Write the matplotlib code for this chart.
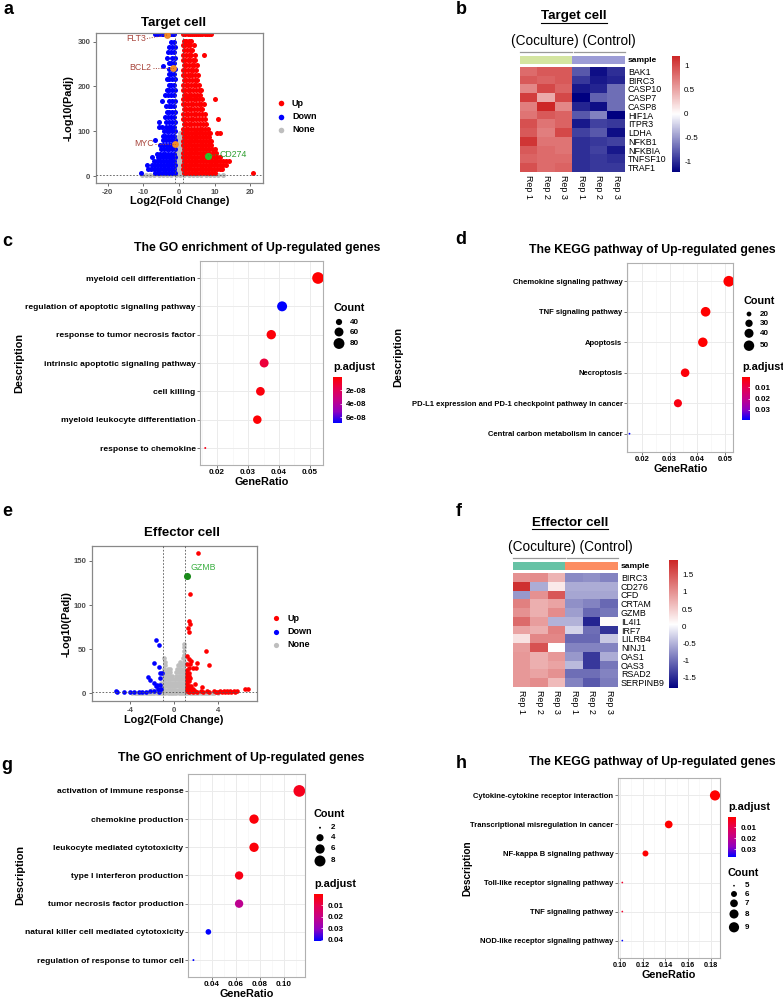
import numpy as np
import matplotlib.pyplot as plt
from matplotlib.colors import LinearSegmentedColormap, ListedColormap
from matplotlib.ticker import AutoMinorLocator

plt.rcParams['font.family'] = ['Liberation Sans', 'DejaVu Sans']
plt.rcParams['axes.unicode_minus'] = False

# ---------------- data ----------------
# volcano rows: (-log10 padj, [log2 fold change, ...])
up_a = [
    (317, [1.2, 1.8, 2.4, 3.0, 3.6, 4.2, 4.8, 5.4, 6.0, 6.6, 7.2, 7.8, 8.4, 9.0]),
    (302, [1.3, 2.1, 2.9, 3.4]),
    (292, [1.1, 1.7, 2.5, 3.2, 4.1]),
    (281, [1.4, 2.2, 3.0, 3.8]),
    (270, [1.2, 1.9, 2.7, 3.5, 4.4, 6.9]),
    (259, [1.1, 1.6, 2.4, 3.1, 3.9, 4.6]),
    (248, [1.3, 2.0, 2.8, 3.6, 4.3, 5.0]),
    (237, [1.2, 1.8, 2.6, 3.3, 4.0, 4.7]),
    (226, [1.1, 1.7, 2.4, 3.1, 3.8, 4.5, 5.3]),
    (215, [1.4, 2.1, 2.9, 3.6, 4.4, 5.1]),
    (204, [1.2, 1.9, 2.6, 3.4, 4.1, 4.9, 5.7]),
    (193, [1.1, 1.7, 2.4, 3.2, 3.9, 4.7, 5.5, 6.3]),
    (182, [1.3, 2.0, 2.8, 3.5, 4.3, 5.0, 5.8]),
    (171, [1.2, 1.9, 2.6, 3.4, 4.1, 4.9, 5.6, 6.4, 10.0]),
    (160, [1.1, 1.8, 2.5, 3.3, 4.0, 4.8, 5.5, 6.3, 7.0]),
    (149, [1.3, 2.0, 2.8, 3.5, 4.3, 5.0, 5.8, 6.6]),
    (138, [1.2, 1.9, 2.6, 3.4, 4.1, 4.9, 5.7, 6.5, 7.3]),
    (127, [1.1, 1.8, 2.5, 3.3, 4.0, 4.8, 5.6, 6.4, 7.2, 10.9]),
    (116, [1.3, 2.0, 2.8, 3.5, 4.3, 5.1, 5.9, 6.7, 7.5]),
    (105, [1.2, 1.9, 2.6, 3.4, 4.2, 5.0, 5.8, 6.6, 7.4, 8.2]),
    (96, [1.1, 1.8, 2.5, 3.3, 4.1, 4.9, 5.7, 6.5, 7.3, 8.1, 8.8, 10.6, 11.4]),
    (87, [1.3, 2.0, 2.8, 3.6, 4.4, 5.2, 6.0, 6.8, 7.6, 8.4]),
    (78, [1.2, 1.9, 2.7, 3.5, 4.3, 5.1, 5.9, 6.7, 7.5, 8.3, 9.1]),
    (69, [1.1, 1.8, 2.6, 3.4, 4.2, 5.0, 5.8, 6.6, 7.4, 8.2, 9.0]),
    (60, [1.3, 2.0, 2.8, 3.6, 4.4, 5.2, 6.0, 6.8, 7.6, 8.4, 9.2, 10.0]),
    (51, [1.2, 1.9, 2.7, 3.5, 4.3, 5.1, 5.9, 6.7, 7.5, 8.3, 9.5, 10.5]),
    (42, [1.1, 1.8, 2.6, 3.4, 4.2, 5.0, 5.8, 6.6, 7.4, 9.0, 9.8, 10.6, 11.5]),
    (33, [1.3, 2.0, 2.8, 3.6, 4.4, 5.2, 6.0, 6.8, 7.6, 8.4, 9.2, 10.0, 10.8, 11.6, 12.4, 13.2, 14.0]),
    (24, [1.2, 1.9, 2.7, 3.5, 4.3, 5.1, 5.9, 6.7, 7.5, 8.3, 9.1, 9.9, 10.7, 11.5, 12.3, 13.1]),
    (15, [1.1, 1.8, 2.6, 3.4, 4.2, 5.0, 5.8, 6.6, 7.4, 8.2, 9.0, 9.8, 10.6, 11.4, 12.2]),
    (6, [1.3, 2.0, 2.8, 3.6, 4.4, 5.2, 6.0, 6.8, 7.6, 8.4, 9.2, 10.0, 20.8]),
]
down_a = [
    (317, [-1.3, -1.8, -2.3, -2.8, -3.9, -4.4, -4.9, -5.5, -6.1, -6.7]),
    (300, [-1.3, -2.1]),
    (288, [-1.2, -1.9, -2.8]),
    (276, [-1.4, -2.2, -3.0]),
    (264, [-1.2, -2.0, -3.4]),
    (252, [-1.3, -2.1, -2.9]),
    (246, [-4.4]),
    (240, [-1.2, -1.9, -2.7]),
    (228, [-1.4, -2.2, -2.9]),
    (216, [-1.2, -2.0, -2.8, -3.5]),
    (204, [-1.3, -2.1, -2.9]),
    (192, [-1.2, -1.9, -2.7, -3.4]),
    (180, [-1.4, -2.2, -3.0, -3.8]),
    (168, [-1.2, -2.0, -2.8, -4.8]),
    (156, [-1.3, -2.1, -2.9, -3.6]),
    (144, [-1.2, -1.9, -2.7, -3.5]),
    (132, [-1.4, -2.2, -3.0, -3.8]),
    (120, [-1.2, -2.0, -2.8, -3.6, -5.5]),
    (110, [-1.3, -2.1, -2.9, -3.7, -4.8, -5.7]),
    (100, [-1.2, -1.9, -2.7, -3.5, -4.3]),
    (90, [-1.4, -2.2, -3.0, -3.8, -4.6]),
    (80, [-1.2, -2.0, -2.8, -3.6, -4.4, -6.7]),
    (70, [-1.3, -2.1, -2.9, -3.7, -4.5, -5.3]),
    (60, [-1.2, -1.9, -2.7, -3.5, -4.3, -5.1]),
    (50, [-1.4, -2.2, -3.0, -3.8, -4.6, -5.4, -6.2]),
    (42, [-1.2, -2.0, -2.8, -3.6, -4.4, -5.2, -6.0, -7.6]),
    (33, [-1.3, -2.1, -2.9, -3.7, -4.5, -5.3, -6.1, -6.9]),
    (24, [-1.2, -1.9, -2.7, -3.5, -4.3, -5.1, -5.9, -6.7, -7.5, -9.0]),
    (15, [-1.4, -2.2, -3.0, -3.8, -4.6, -5.4, -6.2, -7.0, -7.8, -8.6]),
    (6, [-1.2, -2.0, -2.8, -3.6, -4.4, -5.2, -6.0, -6.8, -10.6]),
]
none_a = [
    (95, [0.2]),
    (88, [-0.3, 0.4]),
    (80, [-0.6, 0.0, 0.6]),
    (72, [-0.5, 0.1, 0.7]),
    (64, [-0.7, -0.1, 0.5]),
    (56, [-0.6, 0.0, 0.6]),
    (48, [-0.7, -0.1, 0.5]),
    (40, [-0.6, 0.0, 0.6]),
    (32, [-0.7, -0.1, 0.5]),
    (24, [-0.6, 0.0, 0.6]),
    (16, [-0.7, -0.1, 0.5]),
    (8, [-0.6, 0.0, 0.6]),
    (2, [-10.5, -9.3, -8.1, -6.9, -5.7, -4.5, -3.3, -2.1, -0.9, 0.3, 1.5, 2.7, 3.9,
         5.1, 6.3, 7.5, 8.7, 9.9, 11.1, 12.3]),
]
genes_a = ['FLT3', 'BCL2', 'MYC']
genes_a_x = [-3.4, -1.8, -1.1]
genes_a_y = [315, 242, 72]
hit_a = ('CD274', 8.1, 45)

up_e = [
    (159, [2.2]), (112, [1.4]), (82, [1.35]), (79, [1.45]), (74, [1.25]), (69, [1.3]),
    (48, [2.9]), (42, [1.2]), (39, [1.35]), (37, [1.55]), (35, [2.05]), (33, [1.2, 1.4]),
    (32, [3.2]), (29, [1.3, 1.7, 2.0]), (26, [1.15]), (23, [1.2, 1.35]), (20, [1.15, 1.3]),
    (17, [1.2, 1.45]), (14, [1.15, 1.3]), (11, [1.2, 1.9]), (9, [1.3, 1.5]), (7, [1.2, 2.5]),
    (5, [1.15, 1.4, 1.7, 6.4, 6.7]),
    (3, [1.2, 1.5, 1.9, 2.4, 3.0, 3.6, 4.2, 4.5, 4.8, 5.1, 5.4, 5.7]),
    (1.8, [1.3, 1.7, 2.1, 2.6, 3.2, 3.8, 4.0, 4.3, 4.6, 4.9, 5.2, 5.5]),
]
down_e = [
    (60, [-1.65]), (55, [-1.35]), (35, [-1.85]), (30, [-1.4]), (23, [-1.15, -1.3]),
    (19, [-2.35]), (17, [-1.3]), (15, [-2.2]), (12, [-1.85]), (10, [-1.3, -1.6]),
    (8, [-1.65]), (5, [-1.5, -1.2]), (3, [-5.3, -2.2, -1.8]), (2, [-4.6, -2.6]),
    (1.5, [-5.2, -4.0, -3.7, -3.2, -2.9, -1.4]),
]
none_e = [
    (56, [0.9]), (52, [0.88]), (48, [0.9]), (44, [0.85]),
    (40, [-0.9, 0.82, 0.92]),
    (36, [-0.85, 0.5, 0.88]),
    (32, [-0.88, 0.35, 0.55, 0.75, 0.92]),
    (28, [-0.9, -0.55, -0.4, 0.25, 0.45, 0.65, 0.85]),
    (24, [-0.95, -0.75, -0.55, -0.35, 0.2, 0.4, 0.6, 0.8, 0.95]),
    (20, [-0.95, -0.75, -0.55, -0.35, -0.2, 0.15, 0.35, 0.55, 0.75, 0.92]),
    (16, [-0.98, -0.8, -0.6, -0.4, -0.2, 0.1, 0.3, 0.5, 0.7, 0.9]),
    (12, [-1.2, -0.95, -0.75, -0.55, -0.35, -0.15, 0.05, 0.25, 0.45, 0.65, 0.85]),
    (8, [-1.4, -1.1, -0.9, -0.7, -0.5, -0.3, -0.1, 0.1, 0.3, 0.5, 0.7, 0.9, 1.1]),
    (4, [-2.0, -1.6, -1.3, -1.0, -0.8, -0.6, -0.4, -0.2, 0.0, 0.2, 0.4, 0.6, 0.8, 1.0, 1.3, 1.7]),
    (1, [-3.8, -3.4, -3.0, -2.6, -2.2, -1.8, -1.4, -1.0, -0.6, -0.2, 0.2, 0.6, 1.0, 1.4,
         1.8, 2.2, 2.6, 3.0, 3.4]),
    (0.2, [-3.6, -3.2, -2.8, -2.4, -2.0, -1.6, -1.2, -0.8, -0.4, 0.0, 0.4, 0.8, 1.2, 1.6,
           2.0, 2.4, 2.8, 3.2, 3.6, 4.0]),
]
hit_e = ('GZMB', 1.16, 133)

# heatmaps (row-scaled expression)
samples = ['Rep 1', 'Rep 2', 'Rep 3', 'Rep 1', 'Rep 2', 'Rep 3']
sample_group = [0, 0, 0, 1, 1, 1]  # 0 = Coculture, 1 = Control
genes_b = ['BAK1', 'BIRC3', 'CASP10', 'CASP7', 'CASP8', 'HIF1A', 'ITPR3', 'LDHA',
           'NFKB1', 'NFKBIA', 'TNFSF10', 'TRAF1']
expr_b = [
    [0.80, 0.90, 0.90, -0.80, -1.15, -1.00],
    [0.90, 0.85, 0.90, -0.95, -1.10, -1.05],
    [0.65, 1.00, 0.85, -1.10, -1.05, -0.70],
    [1.05, 0.45, 1.00, -1.22, -0.75, -0.70],
    [0.70, 1.19, 0.65, -1.05, -1.15, -0.70],
    [0.75, 0.90, 0.85, -0.80, -0.60, -1.22],
    [0.95, 0.75, 0.85, -1.10, -0.90, -0.95],
    [0.90, 0.70, 1.00, -0.90, -0.80, -1.15],
    [1.10, 0.75, 0.75, -1.00, -0.95, -0.90],
    [0.90, 0.80, 0.75, -1.00, -0.90, -1.10],
    [0.85, 0.80, 0.80, -1.00, -0.95, -1.00],
    [0.95, 0.80, 0.85, -1.00, -0.95, -0.95],
]
genes_f = ['BIRC3', 'CD276', 'CFD', 'CRTAM', 'GZMB', 'IL4I1', 'IRF7', 'LILRB4', 'NINJ1',
           'OAS1', 'OAS3', 'RSAD2', 'SERPINB9']
expr_f = [
    [1.00, 1.05, 0.70, -0.80, -0.75, -0.85],
    [1.85, -0.55, 0.25, -0.55, -0.55, -0.55],
    [-0.70, 1.00, 1.50, -0.60, -0.60, -0.60],
    [1.15, 0.75, 0.85, -0.75, -0.85, -1.05],
    [1.00, 0.75, 1.05, -0.65, -1.05, -0.95],
    [1.35, 0.90, -0.50, -0.50, -1.55, 0.10],
    [0.85, 0.75, 1.15, -0.25, -1.00, -1.45],
    [0.30, 1.10, 1.10, -1.05, -1.05, -0.35],
    [0.90, 1.55, 0.05, -0.85, -0.85, -0.85],
    [0.95, 0.75, 0.95, -0.70, -1.40, -0.55],
    [0.95, 0.75, 0.85, -0.45, -1.40, -0.95],
    [0.95, 0.85, 1.00, -1.00, -1.00, -0.85],
    [0.95, 1.05, 0.65, -0.85, -1.15, -0.90],
]
range_b = (-1.22, 1.19)
range_f = (-1.82, 1.94)
ticks_b = [1, 0.5, 0, -0.5, -1]
ticks_f = [1.5, 1, 0.5, 0, -0.5, -1, -1.5]

# enrichment dot plots
go_t_terms = ['myeloid cell differentiation', 'regulation of apoptotic signaling pathway',
              'response to tumor necrosis factor', 'intrinsic apoptotic signaling pathway',
              'cell killing', 'myeloid leukocyte differentiation', 'response to chemokine']
go_t_ratio = [0.0526, 0.0410, 0.0375, 0.0352, 0.0340, 0.0330, 0.0162]
go_t_count = [90, 70, 64, 60, 58, 56, 28]
go_t_padj = [1e-10, 6.9e-8, 2e-9, 1.3e-8, 3e-9, 1e-9, 5e-9]

kegg_t_terms = ['Chemokine signaling pathway', 'TNF signaling pathway', 'Apoptosis',
                'Necroptosis', 'PD-L1 expression and PD-1 checkpoint pathway in cancer',
                'Central carbon metabolism in cancer']
kegg_t_ratio = [0.0514, 0.0430, 0.0420, 0.0356, 0.0330, 0.0155]
kegg_t_count = [53, 44, 43, 37, 34, 16]
kegg_t_padj = [0.0009, 0.001, 0.001, 0.002, 0.003, 0.039]

go_e_terms = ['activation of immune response', 'chemokine production',
              'leukocyte mediated cytotoxicity', 'type I interferon production',
              'tumor necrosis factor production', 'natural killer cell mediated cytotoxicity',
              'regulation of response to tumor cell']
go_e_ratio = [0.1127, 0.0751, 0.0751, 0.0627, 0.0627, 0.0372, 0.0248]
go_e_count = [9, 6, 6, 5, 5, 3, 2]
go_e_padj = [0.004, 0.0015, 0.0015, 0.003, 0.022, 0.041, 0.041]

kegg_e_terms = ['Cytokine-cytokine receptor interaction', 'Transcriptional misregulation in cancer',
                'NF-kappa B signaling pathway', 'Toll-like receptor signaling pathway',
                'TNF signaling pathway', 'NOD-like receptor signaling pathway']
kegg_e_ratio = [0.1837, 0.1429, 0.1224, 0.1020, 0.1020, 0.1020]
kegg_e_count = [9, 7, 6, 5, 5, 5]
kegg_e_padj = [0.001, 0.001, 0.0012, 0.006, 0.006, 0.037]

# ---------------- figure ----------------
W, H = 783, 1000
fig = plt.figure(figsize=(W / 100, H / 100), dpi=100)

ov = fig.add_axes([0, 0, 1, 1], zorder=10)
ov.set_xlim(0, W)
ov.set_ylim(H, 0)
ov.axis('off')
ov.patch.set_visible(False)


def px_axes(x0, y0, x1, y1):
    return fig.add_axes([x0 / W, 1 - y1 / H, (x1 - x0) / W, (y1 - y0) / H])


def txt(x, y, s, size, bold=False, **kw):
    kw.setdefault('ha', 'center')
    kw.setdefault('va', 'center')
    ov.text(x, y, s, fontsize=size, fontweight='bold' if bold else 'normal', **kw)


def rows_xy(rows):
    xs = [x for y, r in rows for x in r]
    ys = [y for y, r in rows for x in r]
    return xs, ys


heat_cmap = LinearSegmentedColormap.from_list('nwr', ['#000080', '#FFFFFF', '#CD2626'])
rb_cmap = LinearSegmentedColormap.from_list(
    'rb', ['#FF0000', '#E6004E', '#C40088', '#9000C0', '#0000FF'])


def volcano(box, up, down, none, xlim, ylim, xticks, yticks, ms):
    ax = px_axes(*box)
    for rows, col in ((none, '#BEBEBE'), (down, '#0000FF'), (up, '#FF0000')):
        xs, ys = rows_xy(rows)
        ax.scatter(xs, ys, s=ms, color=col, linewidths=0, zorder=2)
    for v in (-1, 1):
        ax.axvline(v, color='#555555', lw=0.6, ls=(0, (2, 2)), zorder=4)
    ax.axhline(1.3, color='#555555', lw=0.6, ls=(0, (2, 2)), zorder=4)
    ax.set_xlim(*xlim)
    ax.set_ylim(*ylim)
    ax.set_xticks(xticks)
    ax.set_yticks(yticks)
    ax.tick_params(length=2.5, width=0.6, color='#555555', labelsize=5.6,
                   labelcolor='#4D4D4D', pad=1.5)
    for lab in ax.get_xticklabels() + ax.get_yticklabels():
        lab.set_fontweight('bold')
    for s in ax.spines.values():
        s.set_color('#888888')
        s.set_linewidth(0.9)
    return ax


def volcano_legend(x, ys, ms):
    for yy, col, lab in zip(ys, ['#FF0000', '#0000FF', '#BEBEBE'], ['Up', 'Down', 'None']):
        ov.scatter([x], [yy], s=ms, color=col, linewidths=0)
        txt(x + 11, yy, lab, 6.5, True, ha='left')


def dot_px(c, cmin, cmax, k):
    c = np.asarray(c, float)
    return k * (1 + 5 * np.sqrt(np.clip((c - cmin) / (cmax - cmin), 0, 1)))


def dotplot(box, terms, ratio, count, padj, xlim, xticks, k, crange, fs, xfs=5.8):
    ax = px_axes(*box)
    n = len(terms)
    ypos = np.arange(n)[::-1]
    d = dot_px(count, min(count), max(count), k)
    sc = ax.scatter(ratio, ypos, s=(d * 0.72) ** 2, c=padj, cmap=rb_cmap,
                    vmin=crange[0], vmax=crange[1], linewidths=0, zorder=3)
    ax.set_ylim(-0.6, n - 0.4)
    ax.set_yticks(ypos)
    ax.set_yticklabels(terms, fontsize=fs, fontweight='bold')
    ax.set_xlim(*xlim)
    ax.set_xticks(xticks)
    ax.set_xticklabels(['%.2f' % v for v in xticks], fontsize=xfs, fontweight='bold')
    ax.xaxis.set_minor_locator(AutoMinorLocator(2))
    ax.tick_params(which='major', length=2, width=0.5, color='#444444', pad=1.2)
    ax.tick_params(which='minor', length=0)
    ax.grid(True, which='major', color='#EBEBEB', lw=0.7)
    ax.grid(True, which='minor', axis='x', color='#F3F3F3', lw=0.4)
    ax.set_axisbelow(True)
    for s in ax.spines.values():
        s.set_color('#B0B0B0')
        s.set_linewidth(0.8)
    return sc


def padj_bar(sc, box, ticks, labels):
    cax = px_axes(*box)
    cb = fig.colorbar(sc, cax=cax)
    cb.outline.set_visible(False)
    cax.invert_yaxis()
    cb.set_ticks(ticks)
    cb.set_ticklabels(labels)
    cax.tick_params(length=1.8, width=0.5, color='white', direction='in', labelsize=5.8, pad=3)
    for lab in cax.get_yticklabels():
        lab.set_fontweight('bold')
    txt(box[0], box[1] - 10, 'p.adjust', 7.8, True, ha='left')


def count_legend(x, y_title, ys, values, count, k):
    txt(x, y_title, 'Count', 7.8, True, ha='left')
    d = dot_px(values, min(count), max(count), k)
    ov.scatter([x + 6] * len(values), ys, s=(d * 0.72) ** 2, color='black', linewidths=0)
    for yy, v in zip(ys, values):
        txt(x + 17, yy, str(v), 5.8, True, ha='left')


def heatmap(hbox, abox, cbox, vals, genes, vrange, cticks, group_cols):
    ax = px_axes(*hbox)
    im = ax.imshow(vals, cmap=heat_cmap, vmin=vrange[0], vmax=vrange[1],
                   aspect='auto', interpolation='nearest')
    ax.set_yticks(range(len(genes)))
    ax.set_yticklabels(genes, fontsize=6.4)
    ax.yaxis.tick_right()
    ax.set_xticks(range(len(samples)))
    ax.set_xticklabels(samples, rotation=270, fontsize=6.4)
    ax.tick_params(length=0, pad=2)
    for s in ax.spines.values():
        s.set_visible(False)
    axa = px_axes(*abox)
    axa.imshow([sample_group], cmap=ListedColormap(group_cols), vmin=0, vmax=1,
               aspect='auto', interpolation='nearest')
    axa.set_xticks([])
    axa.set_yticks([0])
    axa.set_yticklabels(['sample'], fontsize=6, fontweight='bold')
    axa.yaxis.tick_right()
    axa.tick_params(length=0, pad=2)
    for s in axa.spines.values():
        s.set_visible(False)
    cax = px_axes(*cbox)
    cb = fig.colorbar(im, cax=cax)
    cb.outline.set_visible(False)
    cb.set_ticks(cticks)
    cb.set_ticklabels(['%g' % t for t in cticks])
    cax.tick_params(length=0, labelsize=5.8, pad=3)


# ---- panel a ----
txt(8, 10, 'a', 13, True)
txt(174, 23, 'Target cell', 9.5, True)
ax_a = volcano((96, 33, 263, 183), up_a, down_a, none_a, (-23.3, 23.6), (-15.6, 319.4),
               [-20, -10, 0, 10, 20], [0, 100, 200, 300], 13)
ax_a.scatter(genes_a_x, genes_a_y, s=24, color='#F28C28', linewidths=0, zorder=5)
for g, gx, gy in zip(genes_a, genes_a_x, genes_a_y):
    ty = gy - 8 if g == 'FLT3' else gy
    ax_a.plot([gx - 5.6, gx], [ty, gy], ls=(0, (1, 1.5)), color='#A8453C', lw=0.7, zorder=5)
    ax_a.text(gx - 5.9, ty, g, ha='right', va='center', fontsize=6.3, color='#A8453C', zorder=5)
ax_a.scatter([hit_a[1]], [hit_a[2]], s=26, color='#2BC42B', linewidths=0, zorder=5)
ax_a.plot([hit_a[1], hit_a[1] + 3.0], [hit_a[2], hit_a[2] + 3], ls=(0, (1, 1.5)),
          color='#2E9E2E', lw=0.7, zorder=5)
ax_a.text(hit_a[1] + 3.3, hit_a[2] + 3, hit_a[0], ha='left', va='center', fontsize=6.3,
          color='#2E9E2E', zorder=5)
txt(69, 108, '-Log10(Padj)', 7.8, True, rotation=90)
txt(180, 201, 'Log2(Fold Change)', 7.8, True)
volcano_legend(281, [103, 116.5, 130], 16)

# ---- panel b ----
txt(461, 10, 'b', 13, True)
txt(574, 16, 'Target cell', 9.6, True)
ov.plot([541, 607], [22.8, 22.8], color='black', lw=0.8)
txt(573, 40.5, '(Coculture) (Control)', 9.8)
ov.plot([520, 571.5], [52.3, 52.3], color='#999999', lw=0.9)
ov.plot([573.5, 625], [52.3, 52.3], color='#999999', lw=0.9)
heatmap((520, 67, 625, 172), (520, 56, 625, 64), (672, 56, 680, 172), expr_b, genes_b,
        range_b, ticks_b, ['#D4E5A1', '#9C9CD6'])

# ---- panel c ----
txt(7, 242, 'c', 13, True)
txt(257, 248, 'The GO enrichment of Up-regulated genes', 8.8, True)
sc_c = dotplot((200, 261, 323, 465), go_t_terms, go_t_ratio, go_t_count, go_t_padj,
               (0.0145, 0.0542), [0.02, 0.03, 0.04, 0.05], 1.95, (0, 6.9e-8), 6.1)
padj_bar(sc_c, (333, 377, 342, 423), [2e-8, 4e-8, 6e-8], ['2e-08', '4e-08', '6e-08'])
count_legend(333, 308, [322, 332, 343.5], [40, 60, 80], go_t_count, 1.95)
txt(19, 363, 'Description', 7.8, True, rotation=90)
txt(262, 482, 'GeneRatio', 7.8, True)

# ---- panel d ----
txt(461, 240, 'd', 13, True)
txt(652, 250, 'The KEGG pathway of Up-regulated genes', 8.8, True)
sc_d = dotplot((627, 263, 733, 452), kegg_t_terms, kegg_t_ratio, kegg_t_count, kegg_t_padj,
               (0.0146, 0.0529), [0.02, 0.03, 0.04, 0.05], 1.8, (0.0009, 0.039), 5.5, 5.5)
padj_bar(sc_d, (742, 377, 750, 420), [0.01, 0.02, 0.03], ['0.01', '0.02', '0.03'])
count_legend(743, 300.5, [314, 323.3, 333.3, 345.7], [20, 30, 40, 50], kegg_t_count, 1.8)
txt(398, 357, 'Description', 7.8, True, rotation=90)
txt(681, 469, 'GeneRatio', 7.8, True)

# ---- panel e ----
txt(7, 512, 'e', 13, True)
txt(182, 533, 'Effector cell', 9.5, True)
ax_e = volcano((92, 546, 257, 701), up_e, down_e, none_e, (-7.48, 7.52), (-8.5, 166.7),
               [-4, 0, 4], [0, 50, 100, 150], 11)
ax_e.scatter([hit_e[1]], [hit_e[2]], s=26, color='#1A8A1A', linewidths=0, zorder=5)
ax_e.text(hit_e[1] + 0.3, hit_e[2] + 4, hit_e[0], ha='left', va='bottom', fontsize=6.3,
          color='#3CB043', zorder=5)
txt(67, 624, '-Log10(Padj)', 7.8, True, rotation=90)
txt(174, 720, 'Log2(Fold Change)', 7.8, True)
volcano_legend(276, [618.3, 631.7, 644.5], 14)

# ---- panel f ----
txt(459, 512, 'f', 13, True)
txt(570, 522.5, 'Effector cell', 9.6, True)
ov.plot([532, 608], [529.3, 529.3], color='black', lw=0.8)
txt(570, 547.5, '(Coculture) (Control)', 9.8)
ov.plot([513, 564.5], [557.8, 557.8], color='#999999', lw=0.9)
ov.plot([566.5, 618], [557.8, 557.8], color='#999999', lw=0.9)
heatmap((513, 573, 618, 687), (513, 562, 618, 570), (669, 560, 678, 688), expr_f, genes_f,
        range_f, ticks_f, ['#66C2A5', '#FC8D62'])

# ---- panel g ----
txt(7, 766, 'g', 13, True)
txt(241, 758.5, 'The GO enrichment of Up-regulated genes', 8.8, True)
sc_g = dotplot((188, 774, 305, 977), go_e_terms, go_e_ratio, go_e_count, go_e_padj,
               (0.0203, 0.1174), [0.04, 0.06, 0.08, 0.10], 1.95, (0.0003, 0.0409), 6.1)
padj_bar(sc_g, (314, 894, 323, 941), [0.01, 0.02, 0.03, 0.04],
         ['0.01', '0.02', '0.03', '0.04'])
count_legend(314, 814, [827.7, 837.7, 849, 861], [2, 4, 6, 8], go_e_count, 1.95)
txt(20, 875, 'Description', 7.8, True, rotation=90)
txt(247, 994, 'GeneRatio', 7.8, True)

# ---- panel h ----
txt(461, 763, 'h', 13, True)
txt(652, 762.5, 'The KEGG pathway of Up-regulated genes', 8.8, True)
sc_h = dotplot((618, 778, 720, 958), kegg_e_terms, kegg_e_ratio, kegg_e_count, kegg_e_padj,
               (0.0982, 0.1881), [0.10, 0.12, 0.14, 0.16, 0.18], 1.7, (0.0009, 0.037), 5.5, 5.2)
padj_bar(sc_h, (728, 817, 736, 857), [0.01, 0.02, 0.03], ['0.01', '0.02', '0.03'])
count_legend(728, 873, [885.7, 894, 903.3, 914, 927.3], [5, 6, 7, 8, 9], kegg_e_count, 1.7)
txt(467, 868, 'Description', 7.3, True, rotation=90)
txt(669, 975, 'GeneRatio', 7.8, True)

fig.savefig('out.png', dpi=100)
